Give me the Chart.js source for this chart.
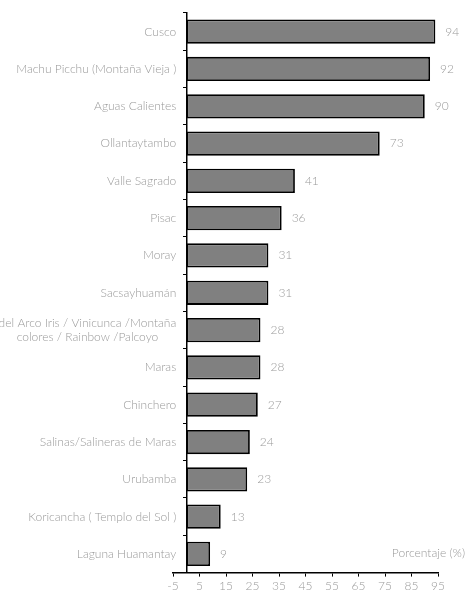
<!DOCTYPE html>
<html>
<head>
<meta charset="utf-8">
<script src="https://cdn.jsdelivr.net/npm/chart.js@4"></script>
<style>
  html, body { margin: 0; padding: 0; background: #fff; }
</style>
</head>
<body>
<canvas id="chart" width="468" height="597"></canvas>
<script>
// categories, top to bottom
var labels = [
  'Cusco',
  'Machu Picchu (Montaña Vieja )',
  'Aguas Calientes',
  'Ollantaytambo',
  'Valle Sagrado',
  'Pisac',
  'Moray',
  'Sacsayhuamán',
  ['del Arco Iris / Vinicunca /Montaña', 'colores / Rainbow /Palcoyo'],
  'Maras',
  'Chinchero',
  'Salinas/Salineras de Maras',
  'Urubamba',
  'Koricancha ( Templo del Sol )',
  'Laguna Huamantay'
];
var values = [94, 92, 90, 73, 41, 36, 31, 31, 28, 28, 27, 24, 23, 13, 9];
var xMin = -5;
var xMax = 95;
var xStep = 10;
var axisTitle = 'Porcentaje (%)';

var grey = '#9a9a9a';
var fontCss = '300 12px Lato';
var font = { family: 'Lato', size: 12, weight: 300 };

// category names left of the axis at x = 0, bar values, axis title
var textPlugin = {
  id: 'textPlugin',
  afterDatasetsDraw: function(chart) {
    var ctx = chart.ctx;
    var xs = chart.scales.x;
    var ys = chart.scales.y;
    var meta = chart.getDatasetMeta(0);
    ctx.save();
    ctx.font = fontCss;
    ctx.fillStyle = grey;
    ctx.textBaseline = 'middle';

    var right = xs.getPixelForValue(0) - 10;
    labels.forEach(function(lab, i) {
      var y = ys.getPixelForTick(i);
      if (Array.isArray(lab)) {
        var w = Math.max.apply(null, lab.map(function(l) { return ctx.measureText(l).width; }));
        ctx.textAlign = 'center';
        lab.forEach(function(l, j) {
          ctx.fillText(l, right - w / 2, y + (j - (lab.length - 1) / 2) * 14);
        });
      } else {
        ctx.textAlign = 'right';
        ctx.fillText(lab, right, y);
      }
    });

    ctx.textAlign = 'left';
    meta.data.forEach(function(bar, i) {
      ctx.fillText(values[i], bar.x + 10, bar.y);
    });

    ctx.textAlign = 'right';
    ctx.fillText(axisTitle, chart.width - 3, chart.chartArea.bottom - 19);
    ctx.restore();
  }
};

var ctx = document.getElementById('chart').getContext('2d');
var myChart = new Chart(ctx, {
  type: 'bar',
  data: {
    labels: labels,
    datasets: [{
      data: values,
      backgroundColor: '#808080',
      borderColor: '#000',
      borderWidth: 1.8,
      borderSkipped: false,
      barPercentage: 0.65,
      categoryPercentage: 1
    }]
  },
  options: {
    indexAxis: 'y',
    responsive: false,
    animation: false,
    layout: { padding: { left: 173, right: 30, top: 13, bottom: 2 } },
    plugins: {
      legend: { display: false },
      tooltip: { enabled: false }
    },
    scales: {
      x: {
        min: xMin,
        max: xMax,
        ticks: { stepSize: xStep, color: grey, font: font, padding: 2 },
        grid: { drawOnChartArea: false, tickLength: 4, color: '#000' },
        border: { color: '#000', width: 1.5 }
      },
      y: {
        position: { x: 0 },
        ticks: { display: false, autoSkip: false },
        grid: { drawOnChartArea: false, tickLength: 3, color: '#000', offset: true },
        border: { color: '#000', width: 1.5 }
      }
    }
  },
  plugins: [textPlugin]
});
</script>
</body>
</html>
